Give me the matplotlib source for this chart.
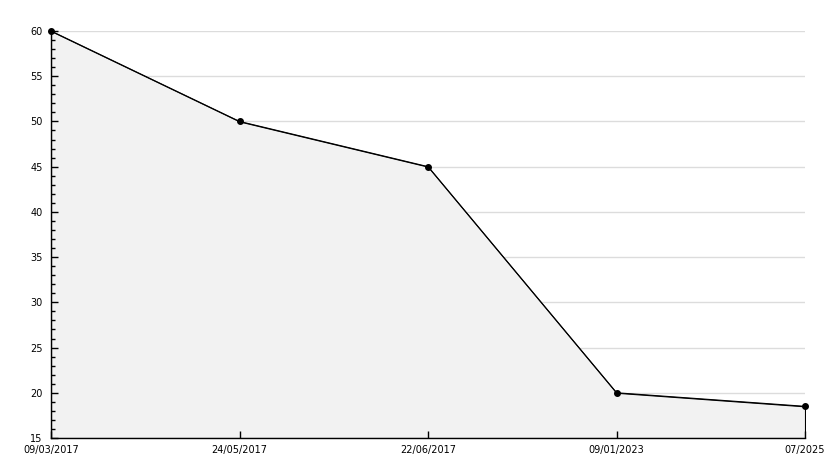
import matplotlib
matplotlib.use("Agg")
import matplotlib.pyplot as plt
from matplotlib.ticker import MultipleLocator

dates = ["09/03/2017", "24/05/2017", "22/06/2017", "09/01/2023", "07/2025"]
values = [60, 50, 45, 20, 18.5]
y_min, y_max = 15, 60

W, H = 834, 468
fig = plt.figure(figsize=(W / 100, H / 100), dpi=100)
ax = fig.add_axes([51 / W, (H - 438) / H, (805 - 51) / W, (438 - 31) / H])
ax.set_axisbelow(False)

x = list(range(len(dates)))
ax.fill_between(x, values, y_min, facecolor="#f2f2f2", edgecolor="black", linewidth=0.8, zorder=1.2)
ax.plot(x, values, color="black", linewidth=0.8, marker="o", markersize=4, zorder=3, clip_on=False)

ax.set_xlim(0, len(dates) - 1)
ax.set_ylim(y_min, y_max)
ax.set_xticks(x)
ax.set_xticklabels(dates)
ax.yaxis.set_major_locator(MultipleLocator(5))
ax.yaxis.set_minor_locator(MultipleLocator(1))

for yv in range(20, 61, 5):
    ax.axhline(yv, color="#dcdcdc", linewidth=1, zorder=1)

for s in ["top", "right"]:
    ax.spines[s].set_visible(False)
for s in ["left", "bottom"]:
    ax.spines[s].set_linewidth(1)
    ax.spines[s].set_zorder(4)

ax.tick_params(axis="y", which="major", direction="in", length=5, width=1, labelsize=7, pad=6)
ax.tick_params(axis="y", which="minor", direction="in", length=3, width=1)
ax.tick_params(axis="x", which="major", direction="in", length=5, width=1, labelsize=7, pad=5)

fig.savefig("out.png", dpi=100)
